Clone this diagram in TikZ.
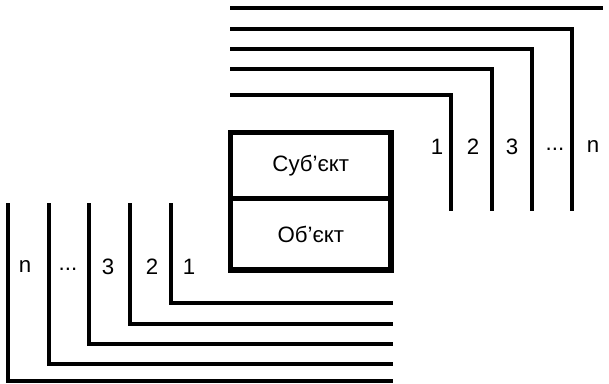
\documentclass[tikz,border=0pt]{standalone}
\usepackage{fontspec}
\setmainfont{Liberation Sans}
\usetikzlibrary{positioning}
\tikzset{
  %% -- channel line (L-shaped) --
  chan/.style={line width=2.8pt, line join=miter},
  %% -- channel number --
  num/.style={font=\fontsize{19}{21}\selectfont, inner sep=0pt},
  %% -- subject / object cell --
  cell/.style={draw, line width=4.4pt, outer sep=0pt,
    minimum width=4.815cm, minimum height=1.98cm, inner sep=0pt,
    font=\fontsize{19}{21}\selectfont},
}
\begin{document}
\begin{tikzpicture}[x=0.03cm, y=-0.03cm]
\useasboundingbox (0,0) rectangle (609,383);

%% Subject / object box
\node[cell] (subj) at (310.8,165.5) {Суб’єкт};
\node[cell, minimum height=2.145cm, below=0pt of subj] (obj) {Об’єкт};

%% Upper channels 1..n
\draw[chan] (230,8) -- (603,8);
\foreach \x/\y in {451/95, 492/69, 532/49, 572/29}{
  \draw[chan] (230,\y) -| (\x,211);
}
\node[num] (u1) at (437,147) {1};
\node[num] (u2) at (473,147) {2};
\node[num] (u3) at (512,147) {3};
\node[num] (ud) at (555,149) {...};
\node[num] (un) at (593,147) {n};

%% Lower channels 1..n
\foreach \x/\y in {171/303, 130/324, 89/344, 49/364, 8/381}{
  \draw[chan] (\x,203) |- (393,\y);
}
\node[num] (l1) at (189,267) {1};
\node[num] (l2) at (152,267) {2};
\node[num] (l3) at (108,267) {3};
\node[num] (ld) at (68,269) {...};
\node[num] (ln) at (25,267) {n};
\end{tikzpicture}
\end{document}
